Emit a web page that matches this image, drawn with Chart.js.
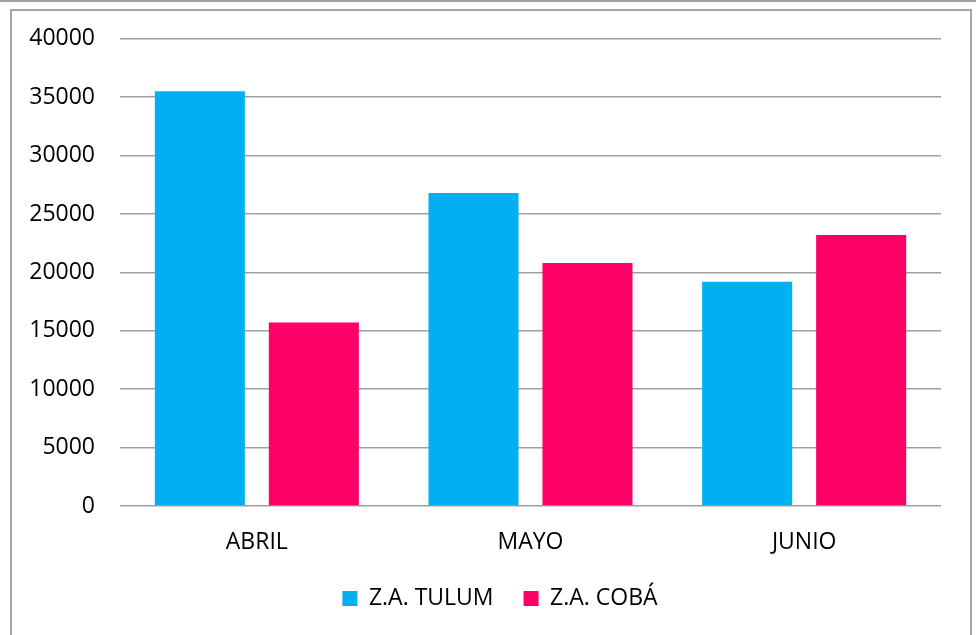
<!DOCTYPE html>
<html>
<head>
<meta charset="utf-8">
<script src="https://cdn.jsdelivr.net/npm/chart.js@4.4.1/dist/chart.umd.min.js"></script>
<style>
  html, body { margin: 0; padding: 0; background: #fff; }
  #topline { position: absolute; left: 0; top: 0; width: 976px; height: 0; border-top: 2px solid #a0a0a0; }
  #frame { position: absolute; left: 10px; top: 9px; width: 958px; height: 640px; border: 2px solid #a6a6a6; border-bottom: none; }
  #wrap { position: absolute; left: 0; top: 0; width: 976px; height: 635px; }
</style>
</head>
<body>
<div id="topline"></div>
<div id="frame"></div>
<div id="wrap"><canvas id="chart" width="976" height="635"></canvas></div>
<script>
var months = ['ABRIL', 'MAYO', 'JUNIO'];
var tulum = [35500, 26800, 19200];
var coba = [15700, 20800, 23200];
var yTicks = [0, 5000, 10000, 15000, 20000, 25000, 30000, 35000, 40000];

var font = { family: "'Open Sans', sans-serif", size: 23 };
var xFont = { family: "'Open Sans', sans-serif", size: 23, lineHeight: 1 };

// nudge the legend to the right so it sits where the original one does
var legendShift = {
  id: 'legendShift',
  afterLayout: function(chart) {
    chart.legend.left += 27;
    chart.legend.right += 27;
  }
};

var ctx = document.getElementById('chart').getContext('2d');
var chart = new Chart(ctx, {
  type: 'bar',
  data: {
    labels: months,
    datasets: [{
      label: 'Z.A. TULUM',
      data: tulum,
      backgroundColor: '#00b0f0',
      borderWidth: 0
    }, {
      label: 'Z.A. COBÁ',
      data: coba,
      backgroundColor: '#ff0066',
      borderWidth: 0
    }]
  },
  plugins: [legendShift],
  options: {
    responsive: false,
    animation: false,
    categoryPercentage: 0.833,
    barPercentage: 0.79,
    layout: { padding: { left: 5, right: 35, top: 28, bottom: 18 } },
    plugins: {
      tooltip: { enabled: false },
      legend: {
        position: 'bottom',
        maxHeight: 60,
        labels: {
          color: '#000',
          font: font,
          boxWidth: 15,
          boxHeight: 15,
          padding: 30
        }
      }
    },
    scales: {
      x: {
        afterFit: function(axis) { axis.height = 51; },
        grid: { display: false },
        border: { display: false },
        ticks: { color: '#000', font: xFont, padding: 17 }
      },
      y: {
        min: 0,
        max: 40000,
        afterBuildTicks: function(axis) {
          axis.ticks = yTicks.map(function(v) { return { value: v }; });
        },
        afterFit: function(axis) { axis.width = 115; },
        grid: { color: '#a0a0a0', lineWidth: 1.5, drawTicks: false },
        border: { display: false },
        ticks: {
          color: '#000',
          font: font,
          padding: 25,
          callback: function(v) { return String(v); }
        }
      }
    }
  }
});
</script>
</body>
</html>
